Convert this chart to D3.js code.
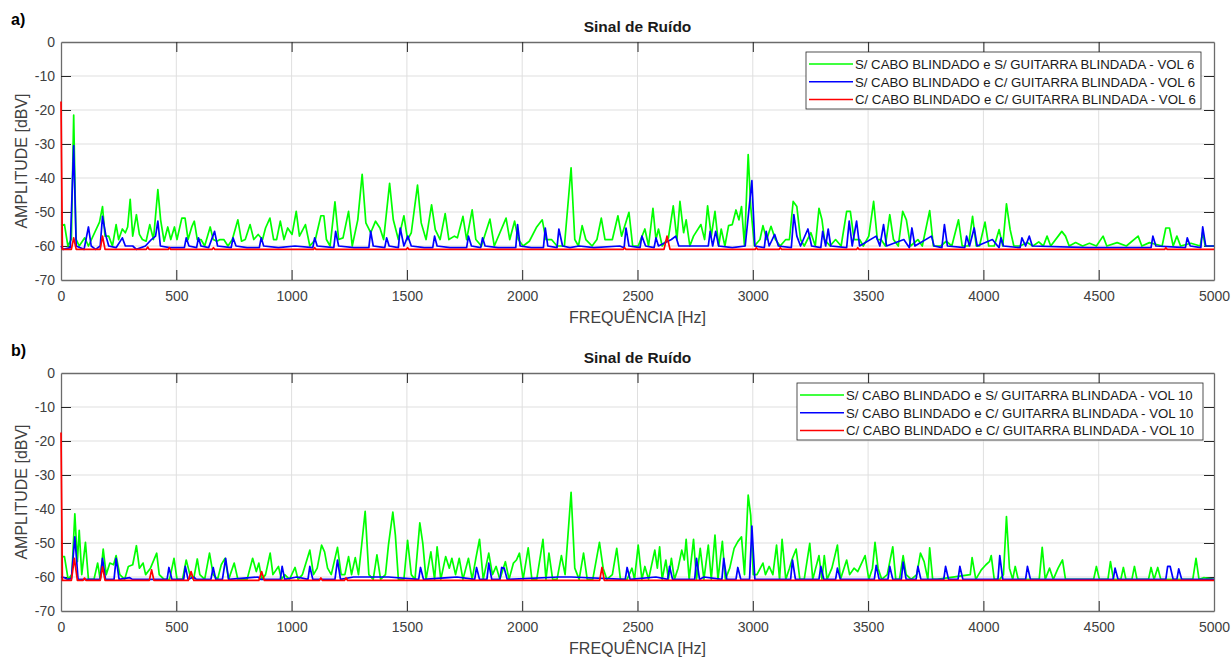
<!doctype html>
<html>
  <head>
    <meta charset="utf-8">
    <script src="https://cdn.jsdelivr.net/npm/d3@7"></script>
    <style>
      body { margin: 0; background: #fff; }
      svg text { font-family: "Liberation Sans", Arial, Helvetica, sans-serif; }
    </style>
  </head>
  <body>
    <script>
      // tick values for both panels
      var x_ticks = [0, 500, 1000, 1500, 2000, 2500, 3000, 3500, 4000, 4500, 5000];
      var y_ticks = [0, -10, -20, -30, -40, -50, -60, -70];

      var legend_a = ["S/ CABO BLINDADO e S/ GUITARRA BLINDADA - VOL 6",
                      "S/ CABO BLINDADO e C/ GUITARRA BLINDADA - VOL 6",
                      "C/ CABO BLINDADO e C/ GUITARRA BLINDADA - VOL 6"];
      var legend_b = ["S/ CABO BLINDADO e S/ GUITARRA BLINDADA - VOL 10",
                      "S/ CABO BLINDADO e C/ GUITARRA BLINDADA - VOL 10",
                      "C/ CABO BLINDADO e C/ GUITARRA BLINDADA - VOL 10"];
      var colors = ["#00ff00", "#0000ff", "#ff0000"];

      // [freq Hz, dBV] (peaks and valleys)
      var green_a = [[0,-54],[15,-53.7],[30,-60],[45,-58],[55,-21.5],[65,-58],[79,-60],[103,-57.6],[119,-60],[167,-53],[180,-48.4],[191,-57.1],[207,-57.1],[223,-60],[239,-53.7],[250,-58.1],[266,-55],[279,-56.1],[289,-54.4],[300,-46.3],[311,-57.1],[327,-50.8],[340,-56.6],[353,-58.1],[369,-58.6],[385,-53.7],[401,-58.1],[420,-43.4],[432,-52.3],[447,-58.6],[463,-54.4],[476,-58.1],[492,-54.4],[503,-58.1],[524,-51.8],[538,-51.8],[551,-58.1],[567,-54.4],[578,-52.7],[591,-58.1],[607,-58.1],[623,-60],[647,-54.4],[660,-58.1],[676,-58.6],[690,-58.1],[706,-58.1],[724,-60],[743,-58.1],[767,-52.3],[783,-58.6],[799,-58.1],[820,-53.7],[836,-58.1],[855,-56.6],[874,-58.1],[887,-54.7],[906,-51.8],[922,-58.1],[935,-58.1],[951,-52.7],[967,-58.1],[983,-54.7],[1002,-56.6],[1020,-49.8],[1034,-57.1],[1060,-53.7],[1079,-60],[1103,-58.1],[1127,-51.1],[1140,-51.1],[1151,-58.1],[1167,-60],[1188,-47],[1204,-58.1],[1223,-57.6],[1247,-49.8],[1263,-60],[1287,-52.3],[1306,-38.9],[1322,-53.2],[1343,-56.1],[1364,-52.7],[1383,-54.7],[1399,-58.1],[1425,-41.6],[1441,-52.3],[1463,-58.1],[1487,-51.1],[1503,-58.1],[1519,-56.1],[1546,-42.1],[1562,-53.2],[1583,-58.1],[1607,-47.9],[1623,-55.2],[1644,-58.1],[1666,-50.5],[1682,-58.1],[1706,-57.1],[1719,-57.6],[1743,-51.3],[1759,-58.1],[1783,-49.4],[1799,-58.1],[1823,-60],[1860,-52.1],[1879,-60],[1930,-51.8],[1946,-58.1],[1967,-52.7],[1983,-58.1],[2004,-60],[2031,-58.6],[2063,-54.4],[2087,-52.3],[2103,-58.1],[2127,-58.1],[2151,-60],[2183,-60],[2212,-37],[2228,-58.1],[2244,-60],[2260,-54],[2276,-58.1],[2303,-60],[2324,-58.1],[2343,-51.8],[2359,-58.1],[2391,-58.1],[2415,-51.1],[2431,-57.1],[2463,-50.1],[2479,-60],
        [2503,-60],[2532,-55],[2548,-60],[2567,-48.9],[2580,-58.1],[2591,-55],[2607,-60],[2634,-57.6],[2655,-48.2],[2671,-58.1],[2684,-46.9],[2700,-56.1],[2711,-52.3],[2727,-60],[2743,-57.1],[2775,-53.7],[2791,-58.1],[2804,-48.2],[2820,-57.1],[2836,-49.8],[2852,-60],[2863,-55],[2879,-60],[2895,-54],[2911,-53.7],[2927,-49.4],[2940,-52.3],[2951,-48.4],[2964,-60],[2980,-33.1],[2991,-48.4],[3007,-60],[3031,-58.1],[3044,-54],[3060,-58.1],[3079,-54.2],[3098,-58.1],[3119,-60],[3143,-58.1],[3159,-58.1],[3175,-46.9],[3191,-48.4],[3207,-58.1],[3223,-60],[3252,-56.1],[3271,-60],[3287,-48.9],[3300,-52.3],[3311,-58.1],[3335,-60],[3359,-58.1],[3383,-60],[3407,-49.8],[3423,-49.8],[3439,-58.1],[3463,-58.1],[3479,-60],[3503,-57.1],[3524,-46.9],[3540,-58.1],[3556,-58.1],[3575,-60],[3594,-50.8],[3610,-58.1],[3631,-60],[3650,-49.8],[3666,-52.3],[3684,-60],[3716,-58.1],[3735,-60],[3767,-49.6],[3783,-60],[3815,-60],[3839,-58.6],[3863,-60],[3892,-52.3],[3908,-60],[3935,-60],[3953,-51.3],[3969,-60],[3983,-60],[4007,-53],[4023,-60],[4047,-60],[4068,-55.2],[4084,-60],[4100,-47.6],[4116,-55.2],[4132,-60],[4159,-60],[4190,-59],[4215,-60],[4240,-58.8],[4260,-60],[4276,-57.1],[4292,-60],[4340,-55.7],[4356,-57.1],[4372,-60],[4400,-59],[4430,-60],[4460,-59.2],[4490,-60],[4519,-57.1],[4535,-60],[4580,-59],[4620,-60],[4671,-57.1],[4687,-60],[4720,-59],[4775,-60],[4791,-54.7],[4807,-54.7],[4823,-60],[4839,-57.1],[4855,-60],[4900,-59.2],[4940,-60],[4951,-56],[4962,-60],[5000,-60]];

      var blue_a = [[0,-60],[10,-61],[40,-60.5],[55,-30.5],[66,-60],[100,-61],[119,-54.4],[131,-60],[150,-61],[170,-60],[180,-51.3],[195,-57.1],[207,-60],[239,-60.5],[266,-57.6],[279,-60],[311,-60],[327,-61],[366,-60],[392,-58.1],[410,-57.1],[420,-52.7],[431,-60],[471,-60.5],[535,-60.5],[543,-57.6],[555,-60],[588,-60.5],[596,-57.6],[607,-60],[640,-60.5],[666,-55.7],[679,-60],[738,-60.5],[746,-57.6],[759,-60],[807,-60.5],[860,-60.5],[868,-57.6],[879,-60],[943,-60.5],[1015,-60],[1092,-60.5],[1100,-57.6],[1111,-60],[1183,-60.5],[1191,-55.7],[1204,-60],[1271,-60.5],[1335,-60.5],[1343,-55.7],[1354,-60],[1404,-60.5],[1412,-57.6],[1423,-60],[1463,-60.5],[1471,-54.7],[1487,-60],[1504,-57.1],[1519,-60],[1575,-60.5],[1612,-60.5],[1620,-57.1],[1631,-60],[1687,-60.5],[1759,-60.5],[1767,-57.1],[1780,-60],[1820,-60.5],[1828,-57.6],[1839,-60],[1895,-60.5],[1972,-60.5],[1980,-53.7],[1991,-60],[2039,-60.5],[2092,-60.5],[2100,-54.7],[2111,-60],[2151,-60.5],[2159,-55],[2175,-60],[2207,-60.5],[2247,-60],[2311,-60.5],[2423,-60],[2442,-60.5],[2450,-54.7],[2463,-60],
        [2511,-60.5],[2519,-57.1],[2535,-60],[2572,-60.5],[2580,-57.6],[2591,-60],[2647,-58.1],[2666,-57.1],[2679,-60],[2807,-60],[2815,-55.7],[2826,-60],[2839,-55.7],[2852,-60],[2911,-60.5],[2967,-60],[2996,-40.8],[3009,-60],[3050,-60.5],[3058,-55.7],[3071,-60],[3095,-56.6],[3111,-60],[3167,-60.5],[3178,-50.8],[3191,-57.1],[3207,-60],[3239,-55],[3255,-60],[3295,-60.5],[3303,-55.7],[3316,-60],[3327,-55],[3338,-60],[3407,-60.5],[3418,-52.7],[3431,-60],[3450,-52.7],[3463,-60],[3535,-57.1],[3551,-60],[3567,-53.7],[3580,-60],[3655,-58.1],[3679,-60.5],[3690,-54.7],[3703,-60],[3775,-57.1],[3786,-60],[3820,-60.5],[3831,-53.7],[3844,-60],[3919,-60.5],[3927,-57.1],[3940,-60],[3960,-54.7],[3973,-60],[4039,-58.1],[4068,-60.5],[4076,-57.6],[4087,-60],[4159,-60.5],[4167,-57.6],[4183,-60],[4199,-57.1],[4212,-60],[4455,-60.5],[4727,-60.5],[4735,-57.1],[4748,-60],[4876,-60.5],[4884,-57.6],[4897,-60],[4943,-60.5],[4951,-54.4],[4964,-60],[5000,-60]];

      var red_a = [[0,-17.5],[6,-61],[45,-61],[55,-57.6],[66,-61],[170,-61],[180,-57.1],[191,-61],[370,-61],[376,-60.3],[382,-61],[465,-61],[470,-60.5],[476,-61],[655,-61],[661,-60.5],[667,-61],[1095,-61],[1100,-60.5],[1106,-61],[1497,-61],[1503,-60.5],[1509,-61],[2438,-61],[2444,-60.5],[2450,-61],[2615,-61],[2628,-57.1],[2641,-61],[3010,-61],[3015,-60.5],[3021,-61],[3114,-61],[3119,-60.5],[3125,-61],[3450,-61],[3455,-60.5],[3461,-61],[4786,-61],[4791,-60.5],[4797,-61],[5000,-61]];

      var green_b = [[0,-54],[15,-54],[31,-60.7],[47,-59.3],[60,-41.4],[71,-55.5],[79,-46.3],[90,-59.3],[106,-49.8],[119,-60.7],[143,-60.7],[159,-55.9],[170,-60.7],[183,-51.8],[196,-59.3],[212,-55.9],[228,-56.4],[239,-53.7],[255,-59.3],[276,-60.7],[292,-56.9],[311,-56.4],[327,-50.8],[340,-57.4],[356,-55.9],[367,-59.3],[388,-57.4],[415,-53],[426,-59.3],[447,-60.7],[471,-60.7],[490,-54.5],[503,-60.7],[527,-60.7],[543,-55],[559,-59.3],[575,-60.7],[591,-54.7],[602,-59.3],[623,-60.7],[644,-53],[660,-59.3],[679,-60.7],[695,-56.4],[711,-54.5],[727,-60.7],[751,-55.9],[767,-60.7],[783,-60.7],[807,-60.7],[831,-54.5],[847,-58.4],[858,-55.9],[871,-60.7],[887,-59.3],[907,-53],[919,-59.3],[943,-56.9],[956,-60.7],[970,-59.3],[991,-60.7],[1015,-57.2],[1028,-60.7],[1047,-59.3],[1079,-52.1],[1095,-59.3],[1111,-57.4],[1130,-50.6],[1143,-52.6],[1156,-57.4],[1172,-59.3],[1199,-51.3],[1215,-59.3],[1231,-59.3],[1247,-54],[1260,-59.3],[1276,-54.3],[1290,-59.3],[1303,-51.1],[1319,-40.7],[1335,-59.3],[1354,-60.7],[1370,-53.5],[1386,-60.7],[1407,-59.3],[1420,-50.6],[1439,-40.9],[1450,-47.7],[1463,-60.7],[1487,-60.7],[1503,-49.2],[1519,-59.3],[1535,-60.7],[1556,-44.1],[1569,-50.1],[1583,-60.7],[1604,-52.6],[1620,-60.7],[1631,-51.1],[1647,-60.7],[1668,-54],[1684,-57.4],[1695,-54.5],[1711,-59.3],[1727,-54.5],[1743,-60.7],[1767,-54.5],[1783,-60.7],[1799,-54.5],[1815,-48.9],[1831,-60.7],[1855,-53],[1871,-59.3],[1887,-56.9],[1903,-60.7],[1927,-55.5],[1943,-60.7],[1962,-55.9],[1975,-55],[1988,-53],[2004,-60.7],[2026,-51.4],[2042,-60.7],[2063,-60.7],[2090,-48.9],[2103,-60.7],[2116,-53],[2132,-60.7],[2151,-60.7],[2170,-53.7],[2186,-59.3],[2212,-35.1],[2228,-57.4],[2247,-60.7],[2266,-53],[2282,-60.7],[2306,-60.7],[2335,-49.8],[2351,-57.4],[2367,-60.7],[2391,-59.3],[2410,-51.6],[2426,-60.7],[2455,-60.7],[2476,-57.4],[2487,-60.7],
        [2503,-50.6],[2519,-60.7],[2532,-56.9],[2548,-60.7],[2575,-52.1],[2586,-57.4],[2596,-51.1],[2607,-60.7],[2623,-55],[2634,-60.7],[2647,-54.5],[2660,-60.7],[2676,-57.4],[2692,-52.1],[2703,-55],[2711,-48.9],[2724,-60.7],[2743,-48.9],[2756,-60.7],[2772,-51.6],[2788,-60.7],[2807,-50.6],[2820,-60.7],[2836,-47.7],[2849,-60.7],[2868,-49.5],[2881,-60.7],[2900,-57.4],[2919,-51.6],[2935,-49.6],[2951,-48.2],[2964,-59.3],[2980,-35.9],[2991,-41.9],[3002,-59.3],[3018,-59.3],[3044,-55.9],[3055,-59.3],[3071,-56.9],[3087,-59.3],[3103,-50.6],[3116,-60.7],[3127,-48.9],[3143,-60.7],[3159,-57.4],[3172,-54.5],[3188,-51.8],[3204,-60.7],[3223,-60.7],[3247,-50.1],[3260,-60.7],[3287,-53.7],[3300,-60.7],[3310,-53.7],[3322,-60.7],[3343,-57.4],[3367,-50.6],[3380,-60.7],[3407,-55],[3420,-59.3],[3439,-57.4],[3455,-58.4],[3487,-53.7],[3503,-60.7],[3519,-57.4],[3530,-49.8],[3543,-57.4],[3559,-60.7],[3583,-59.3],[3607,-51.1],[3620,-60.7],[3636,-60.7],[3652,-53.7],[3665,-59.3],[3687,-60.7],[3711,-59.3],[3727,-53],[3743,-55.5],[3759,-60.7],[3767,-51.4],[3780,-60.7],[3799,-60.7],[3943,-59.3],[3951,-54.3],[3967,-60.7],[3991,-57.9],[4011,-56.4],[4026,-55.5],[4034,-53.7],[4047,-60.7],[4071,-60.7],[4087,-59.3],[4100,-42.2],[4113,-57.4],[4127,-60.7],[4138,-56.9],[4151,-60.7],[4242,-60.7],[4255,-51.3],[4268,-60.7],[4287,-57.4],[4303,-60.7],[4324,-57.4],[4343,-55],[4356,-60.7],[4478,-60.7],[4490,-56.9],[4503,-60.7],[4540,-60.7],[4551,-55.5],[4564,-60.7],[4596,-60.7],[4607,-57.2],[4618,-60.7],[4644,-60.7],[4655,-56.9],[4666,-60.7],[4716,-60.7],[4727,-57.2],[4740,-60.7],[4756,-57.2],[4769,-60.7],[4908,-60.7],[4922,-54.5],[4935,-60.7],[4955,-60.2],[5000,-60.7]];

      var blue_b = [[0,-60],[15,-60.2],[28,-60.7],[45,-60.5],[60,-48.2],[74,-60.7],[170,-60.7],[180,-54.5],[193,-60.7],[230,-60.7],[239,-54.5],[252,-60.7],[298,-60.2],[310,-60.7],[460,-60.7],[468,-57.2],[481,-60.7],[532,-60.7],[539,-56.9],[551,-60.7],[575,-60],[587,-60.7],[650,-60.7],[660,-57.2],[671,-60.7],[700,-60.7],[714,-54.5],[727,-60.7],[855,-60],[866,-60.7],[951,-60.7],[959,-56.9],[970,-60.7],[1023,-60],[1071,-60.7],[1079,-56.9],[1092,-60.7],[1188,-60.7],[1199,-55],[1212,-60.7],[1268,-60],[1364,-60],[1420,-60],[1551,-60.7],[1559,-57.2],[1572,-60.7],[1679,-60.2],[1717,-60],[1794,-60.7],[1802,-57.2],[1815,-60.7],[1847,-60.7],[1855,-55.9],[1868,-60.7],[1903,-60.7],[1911,-57.2],[1922,-57.4],[1935,-60.7],[2159,-60],[2212,-60],[2447,-60.7],[2455,-57.2],[2468,-60.7],
        [2580,-60],[2631,-60.7],[2639,-56.9],[2652,-60.7],[2748,-60.7],[2756,-54.5],[2769,-60.7],[2788,-60],[2866,-60.7],[2874,-54.5],[2887,-60.7],[2927,-60.7],[2935,-57.2],[2948,-60.7],[2986,-60.7],[2996,-45],[3009,-60.7],[3164,-60.7],[3172,-55],[3185,-60.7],[3287,-60.7],[3295,-56.9],[3308,-60.7],[3359,-60.7],[3367,-57.4],[3380,-60.7],[3527,-60.7],[3535,-56.6],[3548,-60.7],[3586,-60.7],[3594,-56.9],[3607,-60.7],[3644,-60.7],[3652,-55.6],[3665,-60.7],[3708,-60.7],[3716,-56.9],[3729,-60.7],[3828,-60.7],[3836,-56.9],[3849,-60.7],[3890,-60.7],[3898,-56.9],[3911,-60.7],[4063,-60.7],[4071,-53.7],[4084,-60.7],[4183,-60.7],[4191,-56.9],[4204,-60.7],[4563,-60.7],[4571,-57.4],[4584,-60.7],[4791,-60.7],[4799,-56.9],[4810,-56.9],[4823,-60.7],[4839,-60.7],[4847,-57.6],[4860,-60.7],[5000,-60.7]];

      var red_b = [[0,-17.5],[6,-61],[45,-61],[58,-54.5],[71,-61],[96,-61],[102,-60.3],[108,-61],[170,-61],[180,-57],[191,-61],[383,-61],[393,-57.9],[403,-61],[552,-61],[564,-58.4],[576,-61],[858,-61],[870,-58.4],[882,-61],[1120,-61],[1127,-60.3],[1134,-61],[1229,-61],[1236,-60.3],[1243,-61],[2336,-61],[2346,-57.2],[2356,-61],[5000,-61]];

      var w_svg = 1231, h_svg = 657;
      var svg = d3.select("body").append("svg")
                  .attr("width", w_svg).attr("height", h_svg);
      svg.append("rect").attr("width", w_svg).attr("height", h_svg).attr("fill", "#fff");

      var left = 61, right = 1214;
      var x = d3.scaleLinear().domain([0, 5000]).range([left, right]);

      function drawPanel(p) {
        var y = d3.scaleLinear().domain([-70, 0]).range([p.bottom, p.top]);
        var g = svg.append("g");

        // grid
        g.append("g").selectAll("line").data(x_ticks.slice(1, -1)).enter().append("line")
          .attr("x1", d => x(d)).attr("x2", d => x(d))
          .attr("y1", p.top).attr("y2", p.bottom)
          .attr("stroke", "#dfdfdf").attr("stroke-width", 1);
        g.append("g").selectAll("line").data(y_ticks.slice(1, -1)).enter().append("line")
          .attr("y1", d => y(d)).attr("y2", d => y(d))
          .attr("x1", left).attr("x2", right)
          .attr("stroke", "#dfdfdf").attr("stroke-width", 1);

        // axes: ticks inside, box on
        var axisColor = "#262626";
        var fmt = d => String(d);
        var xb = g.append("g").attr("transform", "translate(0," + p.bottom + ")")
          .call(d3.axisBottom(x).tickValues(x_ticks).tickFormat(fmt).tickSizeInner(-10).tickSizeOuter(0).tickPadding(11));
        var xt = g.append("g").attr("transform", "translate(0," + p.top + ")")
          .call(d3.axisTop(x).tickValues(x_ticks).tickSizeInner(-10).tickSizeOuter(0).tickFormat(""));
        var yl = g.append("g").attr("transform", "translate(" + left + ",0)")
          .call(d3.axisLeft(y).tickValues(y_ticks).tickFormat(fmt).tickSizeInner(-10).tickSizeOuter(0).tickPadding(6));
        var yr = g.append("g").attr("transform", "translate(" + right + ",0)")
          .call(d3.axisRight(y).tickValues(y_ticks).tickSizeInner(-10).tickSizeOuter(0).tickFormat(""));
        [xb, xt, yl, yr].forEach(function(a) {
          a.select(".domain").attr("stroke", "#6b6b6b").attr("stroke-width", 1.3);
          a.selectAll(".tick line").attr("stroke", axisColor);
          a.selectAll(".tick text").attr("fill", "#404040").style("font-size", "14px")
            .style("font-family", "'Liberation Sans', Arial, sans-serif");
        });
        // edge ticks sit on the box, hide them
        [xb, xt].forEach(a => a.selectAll(".tick").filter(d => d === 0 || d === 5000).select("line").remove());
        [yl, yr].forEach(a => a.selectAll(".tick").filter(d => d === 0 || d === -70).select("line").remove());

        // series, drawn over the box like the original
        var clipId = "clip" + p.name;
        svg.append("clipPath").attr("id", clipId).append("rect")
          .attr("x", left - 1).attr("y", p.top).attr("width", right - left + 2).attr("height", p.bottom - p.top);
        var line = d3.line().x(d => x(d[0])).y(d => y(d[1]));
        var series = [p.green, p.blue, p.red];
        g.append("g").attr("clip-path", "url(#" + clipId + ")")
          .selectAll("path").data(series).enter().append("path")
          .attr("d", line)
          .attr("fill", "none")
          .attr("stroke", (d, i) => colors[i])
          .attr("stroke-width", 1.7)
          .attr("stroke-linejoin", "round");

        // labels
        svg.append("text").attr("x", (left + right) / 2).attr("y", p.top - 10)
          .attr("text-anchor", "middle").attr("font-weight", "bold").attr("font-size", 15.5)
          .attr("fill", "#1a1a1a").text("Sinal de Ruído");
        svg.append("text").attr("x", 11).attr("y", p.top - 17)
          .attr("font-weight", "bold").attr("font-size", 16).attr("fill", "#000").text(p.name + ")");
        svg.append("text").attr("x", (left + right) / 2).attr("y", p.bottom + 43)
          .attr("text-anchor", "middle").attr("font-size", 16).attr("fill", "#404040")
          .text("FREQUÊNCIA [Hz]");
        svg.append("text")
          .attr("transform", "translate(27," + ((p.top + p.bottom) / 2) + ") rotate(-90)")
          .attr("text-anchor", "middle").attr("font-size", 16).attr("fill", "#404040")
          .text("AMPLITUDE [dBV]");

        // legend
        var lg = svg.append("g").attr("transform", "translate(" + p.lx + "," + p.ly + ")");
        lg.append("rect").attr("width", p.lw).attr("height", 57)
          .attr("fill", "#fff").attr("stroke", "#262626").attr("stroke-width", 0.8);
        p.labels.forEach(function(t, i) {
          var cy = 12 + i * 17.8;
          lg.append("line").attr("x1", 3).attr("x2", 47).attr("y1", cy).attr("y2", cy)
            .attr("stroke", colors[i]).attr("stroke-width", 1.5);
          lg.append("text").attr("x", 49).attr("y", cy + 4.7).attr("font-size", 13.2)
            .attr("fill", "#1a1a1a").text(t);
        });
      }

      drawPanel({name: "a", top: 42, bottom: 280, green: green_a, blue: blue_a, red: red_a,
                 labels: legend_a, lx: 806, ly: 52, lw: 395});
      drawPanel({name: "b", top: 373, bottom: 611, green: green_b, blue: blue_b, red: red_b,
                 labels: legend_b, lx: 797, ly: 383, lw: 406});
    </script>
  </body>
</html>
